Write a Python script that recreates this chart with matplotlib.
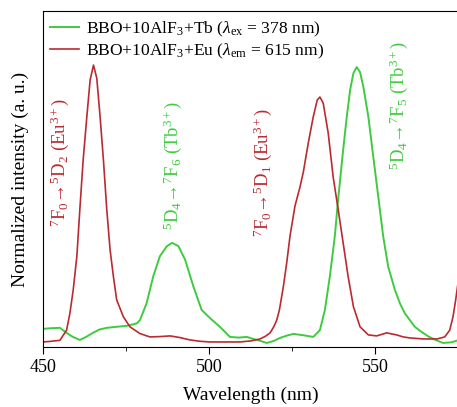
import matplotlib.pyplot as plt
from matplotlib.ticker import MultipleLocator

plt.rcParams['font.family'] = ['Liberation Serif', 'DejaVu Serif']
plt.rcParams['mathtext.fontset'] = 'custom'
plt.rcParams['mathtext.rm'] = 'Liberation Serif'
plt.rcParams['mathtext.it'] = 'Liberation Serif:italic'

# Tb emission (green)
tb_nm = [450, 452.5, 455.1, 457.1, 459, 461.1, 463, 465, 467, 469.2, 472, 475.2, 478.2, 479.2,
         481.2, 483.2, 485.2, 487.3, 488.9, 490.8, 492.8, 495.3, 497.8, 500.3, 503.3, 506.3,
         509, 511.4, 513.3, 515.5, 517.4, 519.5, 521.4, 523.5, 525.4, 528.4, 531.4, 533.4,
         534.9, 536.4, 537.9, 538.9, 540.4, 541.5, 542.5, 543.5, 544.5, 545.5, 546.5, 548,
         549.5, 551, 552.5, 554, 556, 557.5, 559, 560.5, 562, 564, 566, 568, 570.5, 573, 575]
tb_val = [0.054, 0.056, 0.057, 0.042, 0.030, 0.021, 0.030, 0.042, 0.052, 0.057, 0.060, 0.063,
          0.070, 0.080, 0.130, 0.210, 0.270, 0.300, 0.310, 0.300, 0.260, 0.180, 0.110, 0.086,
          0.060, 0.030, 0.028, 0.030, 0.024, 0.018, 0.012, 0.018, 0.027, 0.034, 0.039, 0.035,
          0.030, 0.050, 0.110, 0.210, 0.330, 0.440, 0.586, 0.685, 0.765, 0.815, 0.833, 0.818,
          0.774, 0.685, 0.565, 0.446, 0.327, 0.238, 0.170, 0.130, 0.100, 0.080, 0.060, 0.045,
          0.032, 0.022, 0.012, 0.014, 0.020]

# Eu excitation (red)
eu_nm = [450, 452.5, 455.1, 457.1, 458.1, 459.1, 460.2, 461.1, 462.1, 463.2, 464.2, 465.2,
         466.2, 467.2, 468.2, 469.2, 470.2, 471.2, 472.2, 474.2, 476.2, 479.2, 482.2, 485.2,
         488.3, 491.3, 494.3, 497.3, 500.3, 505, 509.3, 512.5, 515.4, 517, 518.4, 519.5,
         520.4, 521.2, 522.4, 523.4, 524.4, 525.9, 527.4, 528.4, 529.9, 531.4, 532.6, 533.4,
         534.4, 535.9, 537.4, 538.9, 540.4, 541.9, 543.5, 545.5, 548, 550.5, 553.5, 556.5,
         558.5, 560.5, 564.5, 568.7, 571, 572.5, 573.5, 574.3, 575]
eu_val = [0.015, 0.017, 0.020, 0.050, 0.100, 0.170, 0.270, 0.410, 0.557, 0.685, 0.795, 0.839,
          0.800, 0.685, 0.557, 0.410, 0.290, 0.210, 0.140, 0.090, 0.060, 0.040, 0.030, 0.031,
          0.033, 0.028, 0.021, 0.017, 0.015, 0.015, 0.015, 0.018, 0.024, 0.032, 0.042, 0.060,
          0.080, 0.110, 0.180, 0.250, 0.330, 0.420, 0.476, 0.520, 0.607, 0.685, 0.735, 0.744,
          0.726, 0.637, 0.506, 0.410, 0.310, 0.210, 0.120, 0.060, 0.036, 0.033, 0.042, 0.036,
          0.030, 0.027, 0.024, 0.024, 0.030, 0.050, 0.090, 0.140, 0.190]

green = '#3fcb3f'
red = '#bb2a30'

fig = plt.figure(figsize=(4.57, 4.07), dpi=100)
ax = fig.add_axes([43/457, 60/407, 415/457, 336/407])

ax.plot(tb_nm, tb_val, color=green, lw=1.4, label=r'BBO+10AlF$_3$+Tb ($\lambda_{\rm ex}$ = 378 nm)')
ax.plot(eu_nm, eu_val, color=red, lw=1.2, label=r'BBO+10AlF$_3$+Eu ($\lambda_{\rm em}$ = 615 nm)')

ax.set_xlim(450, 575)
ax.set_ylim(0, 1)
ax.xaxis.set_major_locator(MultipleLocator(50))
ax.xaxis.set_minor_locator(MultipleLocator(25))
ax.tick_params(axis='x', which='major', length=5, labelsize=13, direction='out')
ax.tick_params(axis='x', which='minor', length=3, direction='out')
ax.set_yticks([])
ax.set_xlabel('Wavelength (nm)', fontsize=14, labelpad=8)
ax.set_ylabel('Normalized intensity (a. u.)', fontsize=14, labelpad=10)

ax.legend(loc='upper left', bbox_to_anchor=(-0.005, 1.0), frameon=False, fontsize=12.6,
          handlelength=1.7, handletextpad=0.4, borderaxespad=0.1, labelspacing=0.15)

ax.text(455, 0.55, '$^7$F$_0$→$^5$D$_2$ (Eu$^{3+}$)', color=red, rotation=90,
        fontsize=13.5, ha='center', va='center')
ax.text(489.2, 0.54, '$^5$D$_4$→$^7$F$_6$ (Tb$^{3+}$)', color=green, rotation=90,
        fontsize=13.5, ha='center', va='center')
ax.text(516.3, 0.52, '$^7$F$_0$→$^5$D$_1$ (Eu$^{3+}$)', color=red, rotation=90,
        fontsize=13.5, ha='center', va='center')
ax.text(557, 0.72, '$^5$D$_4$→$^7$F$_5$ (Tb$^{3+}$)', color=green, rotation=90,
        fontsize=13.5, ha='center', va='center')

fig.savefig('out.png', dpi=100)
